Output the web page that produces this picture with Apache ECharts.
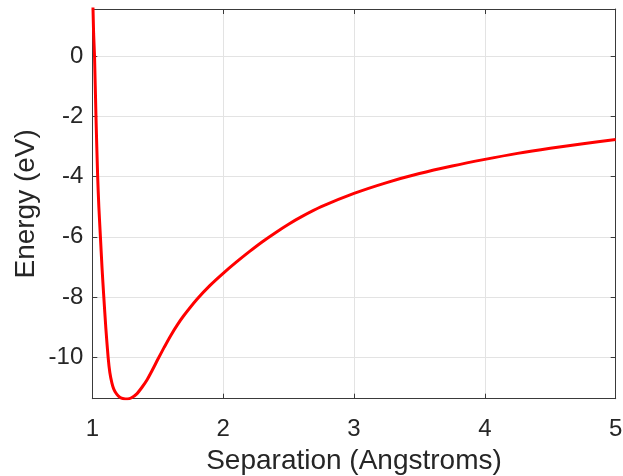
<!DOCTYPE html>
<html>
<head>
<meta charset="utf-8">
<script src="https://cdn.jsdelivr.net/npm/echarts@6/dist/echarts.min.js"></script>
<style>
html,body{margin:0;padding:0;background:#fff;}
#c{width:623px;height:476px;}
</style>
</head>
<body>
<div id="c"></div>
<script>
// Separation (Angstroms)
const separation = [1.0, 1.01, 1.017, 1.028, 1.041, 1.05, 1.062, 1.074, 1.088, 1.103, 1.121, 1.134, 1.15, 1.165, 1.185, 1.21, 1.24, 1.268, 1.30, 1.34, 1.38, 1.42, 1.46, 1.5, 1.55, 1.6, 1.65, 1.7, 1.8, 1.9, 2.0, 2.1, 2.2, 2.3, 2.4, 2.5, 2.6, 2.75, 3.0, 3.25, 3.5, 3.75, 4.0, 4.25, 4.5, 4.75, 5.0];
// Energy (eV)
const energy = [2.6, 0.75, 0, -2, -4, -5, -6, -7, -8, -9, -10, -10.5, -10.85, -11.06, -11.21, -11.32, -11.37, -11.38, -11.34, -11.21, -10.99, -10.73, -10.41, -10.07, -9.66, -9.27, -8.92, -8.61, -8.07, -7.61, -7.21, -6.84, -6.49, -6.16, -5.86, -5.58, -5.33, -5.0, -4.56, -4.2, -3.9, -3.65, -3.43, -3.23, -3.06, -2.91, -2.77];
const xTicks = [1, 2, 3, 4, 5];
const yTicks = [-10, -8, -6, -4, -2, 0];

const font = 'Liberation Sans, Arial, Helvetica, sans-serif';
const txt = '#262626';
const axisCol = '#3a3a3a';
const gridCol = '#e3e3e3';

const chart = echarts.init(document.getElementById('c'), null, {renderer: 'canvas'});
const yMin = -11.37, yMax = 1.56;
chart.setOption({
  animation: false,
  backgroundColor: '#fff',
  grid: {left: 92.3, right: 7.3, top: 9, bottom: 77.3, containLabel: false, outerBoundsMode: 'none'},
  xAxis: [{
    type: 'value', min: xTicks[0], max: xTicks[xTicks.length - 1], interval: 1,
    name: 'Separation (Angstroms)', nameLocation: 'middle', nameGap: 49,
    nameTextStyle: {fontFamily: font, fontSize: 28, color: txt},
    axisLine: {show: true, onZero: false, lineStyle: {color: axisCol, width: 1}},
    axisTick: {show: true, inside: true, length: 5, lineStyle: {color: axisCol}},
    axisLabel: {fontFamily: font, fontSize: 24, color: txt, margin: 19},
    splitLine: {show: true, lineStyle: {color: gridCol, width: 1}}
  }, {
    type: 'value', position: 'top', min: xTicks[0], max: xTicks[xTicks.length - 1], interval: 1,
    axisLine: {show: true, onZero: false, lineStyle: {color: axisCol, width: 1}},
    axisTick: {show: true, inside: true, length: 5, lineStyle: {color: axisCol}},
    axisLabel: {show: false}, splitLine: {show: false}
  }],
  yAxis: [{
    type: 'value', min: yMin, max: yMax, splitNumber: 6,
    name: 'Energy (eV)', nameLocation: 'middle', nameGap: 52, nameRotate: 90, nameMoveOverlap: false,
    nameTextStyle: {fontFamily: font, fontSize: 28, color: txt},
    axisLine: {show: true, onZero: false, lineStyle: {color: axisCol, width: 1}},
    axisTick: {show: true, inside: true, length: 5, lineStyle: {color: axisCol}},
    axisLabel: {fontFamily: font, fontSize: 24, color: txt, margin: 9, showMinLabel: false, showMaxLabel: false,
      formatter: v => yTicks.includes(Math.round(v * 1000) / 1000) ? String(Math.round(v)) : ''},
    splitLine: {show: true, lineStyle: {color: gridCol, width: 1}}
  }, {
    type: 'value', position: 'right', min: yMin, max: yMax, splitNumber: 6,
    axisLine: {show: true, onZero: false, lineStyle: {color: axisCol, width: 1}},
    axisTick: {show: true, inside: true, length: 5, lineStyle: {color: axisCol}},
    axisLabel: {show: false}, splitLine: {show: false}
  }],
  series: [{
    type: 'line', xAxisIndex: 0, yAxisIndex: 0,
    data: separation.map((x, i) => [x, energy[i]]),
    showSymbol: false, symbol: 'none', smooth: 0.25, clip: true,
    lineStyle: {color: '#ff0000', width: 3}
  }]
});
</script>
</body>
</html>
